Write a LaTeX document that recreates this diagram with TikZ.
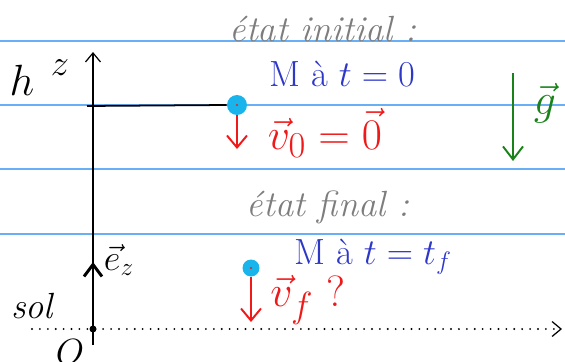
\documentclass[tikz,border=0pt]{standalone}
\usepackage{amsmath,amssymb}
\usepackage{xcolor}
\usepackage{tikz}
\usetikzlibrary{
  arrows.meta,
  positioning
}
\definecolor{ruleblue}{RGB}{105,175,245}
\definecolor{ballcyan}{RGB}{25,180,235}
\definecolor{inkblue}{RGB}{45,55,200}
\definecolor{inkred}{RGB}{240,25,25}
\definecolor{inkgreen}{RGB}{25,130,25}
\definecolor{inkgray}{RGB}{125,125,125}

\begin{document}
\begin{tikzpicture}[x=0.02cm,y=-0.02cm,
  rule/.style ={ruleblue,line width=0.8pt},
  ball/.style ={circle,fill=ballcyan,inner sep=0pt,minimum size=0.4cm},
  vel/.style  ={inkred,line width=1.1pt,-{Straight Barb[length=2.4mm,width=4mm]}},
  ink/.style  ={font=\huge,inner sep=1pt},
  arr/.style  ={-{Straight Barb[length=1.8mm,width=3mm]}},
]
\useasboundingbox (0,0) rectangle (565,362);
% lignes du cahier
\foreach \yy in {41,105,169,234}
  \draw[rule] (0,\yy) -- (565,\yy);

% axe et sol
\coordinate (O)    at (93,329);
\coordinate (zbot) at (93,345);
\coordinate (ztop) at (93,52);
\coordinate (solL) at (32,329);
\coordinate (solR) at (562,329);
\draw[line width=0.7pt,arr] (zbot) -- (ztop);
\draw[line width=1.2pt,line cap=round,dash pattern=on 0pt off 4.5pt,
      -{Straight Barb[length=1.8mm,width=3mm,line width=0.7pt]}] (solL) -- (solR);
\fill (O) circle (3.5);
\coordinate (ez) at (93,262);
\draw[line width=1.7pt,-{Straight Barb[length=2.4mm,width=3.6mm]}] (O) -- (ez);

% etat initial
\node[ball] (ball1) at (237,105) {};
\coordinate (hleft) at (87,106);
\draw[line width=1pt] (hleft) -- (ball1.west);
\coordinate (v0tip) at (237,149);
\draw[vel] (ball1.south) -- (v0tip);
\fill[inkred] (ball1.center) circle (1.2);

% etat final
\node[ball,minimum size=0.34cm] (ball2) at (251,268) {};
\coordinate (vftip) at (251,322);
\draw[vel] (ball2.south) -- (vftip);
\fill[inkred] (ball2.center) circle (1.2);

% pesanteur
\coordinate (gtop) at (513,73);
\coordinate (gbot) at (513,161);
\draw[inkgreen,line width=1.1pt,-{Straight Barb[length=2.6mm,width=4mm]}] (gtop) -- (gbot);

% textes
\node[ink,font=\Huge] (h)   at (22,80)  {$h$};
\node[ink] (z)    at (60,68)  {$z$};
\node[ink] (ezl)  at (119,260) {$\vec{e}_z$};
\node[ink] (sol)  at (32,306) {\itshape sol};
\node[ink] (Ol)   at (70,352) {$O$};
\node[ink,inkgray] (init) at (323,29) {\itshape état initial :};
\node[ink,inkblue] (Mi)   at (342,74) {M à $t=0$};
\node[ink,inkred,font=\Huge]  (v0)   at (325,133) {$\vec{v}_0=\vec{0}$};
\node[ink,inkgreen,font=\Huge] (g) at (545,103) {$\vec{g}$};
\node[ink,inkgray] (fin)  at (328,207) {\itshape état final :};
\node[ink,inkblue] (Mf)   at (373,257) {M à $t=t_f$};
\node[ink,inkred,font=\Huge]  (vf)   at (308,300) {$\vec{v}_f$ ?};
\end{tikzpicture}
\end{document}
